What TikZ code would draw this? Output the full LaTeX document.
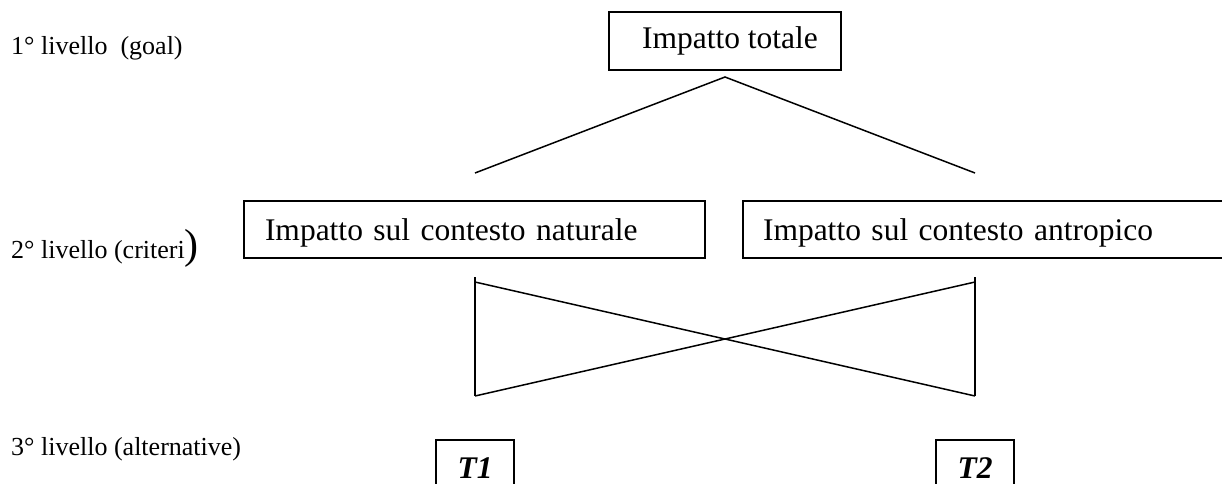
\documentclass[tikz,border=0pt]{standalone}
\usepackage{fontspec}
\setmainfont{Liberation Serif}
\begin{document}
\begin{tikzpicture}[x=1pt,y=-1pt,
  box/.style={draw, line width=1.7pt, outer sep=0pt, inner ysep=0pt,
    font=\fontsize{31.5}{36}\selectfont, text depth=6pt},
  tbox/.style={draw, line width=1.7pt, outer sep=0pt, inner sep=0pt,
    minimum width=78pt, minimum height=60pt, anchor=north,
    font=\fontsize{31.5}{36}\selectfont\bfseries\itshape,
    text height=22pt, text depth=6pt},
  lbl/.style={anchor=base west, inner sep=0pt, font=\fontsize{26}{30}\selectfont},
  conn/.style={line width=1.5pt}]
\useasboundingbox (0,0) rectangle (1222,483);

% level labels
\node[lbl] (lev1) at (11,54) {1° livello~~(goal)};
\node[lbl] (lev2) at (11,258) {2° livello (criteri{\fontsize{42}{46}\selectfont )}};
\node[lbl] (lev3) at (11,455) {3° livello (alternative)};

% boxes
\node[box, minimum width=232pt, minimum height=58pt, text height=20pt, inner xsep=0pt]
  (goal) at (725,41) {\hspace*{10pt}Impatto totale};
\node[box, anchor=north west, minimum width=461pt, minimum height=57pt,
  text width=419pt, inner xsep=21pt, align=left, text height=27pt]
  (nat) at (244,201) {Impatto sul contesto naturale};
\node[box, anchor=north west, minimum width=483pt, minimum height=57pt,
  text width=443pt, inner xsep=20pt, align=left, text height=27pt]
  (ant) at (743,201) {Impatto sul contesto antropico};
\node[tbox] (t1) at (475,440) {T1};
\node[tbox] (t2) at (975,440) {T2};

% connectors
\coordinate (apex) at (725,77);
\coordinate (gl) at (475,173);
\coordinate (gr) at (975,173);
\draw[conn] (gl) -- (apex) -- (gr);

\coordinate (vlt) at (475,277);
\coordinate (vlb) at (475,396);
\coordinate (vrt) at (975,277);
\coordinate (vrb) at (975,396);
\coordinate (dlt) at (475,282);
\coordinate (drt) at (975,282);
\draw[conn] (vlt) -- (vlb);
\draw[conn] (vrt) -- (vrb);
\draw[conn] (dlt) -- (vrb);
\draw[conn] (drt) -- (vlb);
\end{tikzpicture}
\end{document}
